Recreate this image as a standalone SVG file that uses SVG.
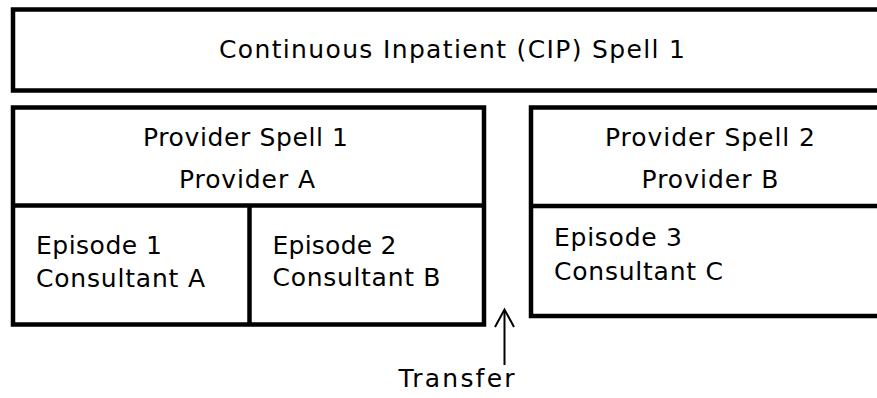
<svg xmlns="http://www.w3.org/2000/svg" width="877" height="398" viewBox="0 0 877 398">
<style>
.box{fill:#fff;stroke:#000;stroke-width:4.5}
.ln{stroke:#000;stroke-width:4.5;fill:none}
.t{font-family:"DejaVu Sans","Verdana",sans-serif;font-size:25px;fill:#000}
.arr{stroke:#000;stroke-width:2;fill:none}
</style>
<rect width="877" height="398" fill="#fff"/>
<g id="cip">
<rect class="box" x="13" y="9.5" width="878" height="81"/>
<text class="t" x="219" y="57.5" textLength="466" lengthAdjust="spacing">Continuous Inpatient (CIP) Spell 1</text>
</g>
<g id="provider1">
<rect class="box" x="13" y="107.5" width="471" height="217"/>
<line class="ln" x1="13" y1="205.5" x2="484" y2="205.5"/>
<text class="t" x="143" y="146" textLength="205" lengthAdjust="spacing">Provider Spell 1</text>
<text class="t" x="179" y="188" textLength="136" lengthAdjust="spacing">Provider A</text>
</g>
<g id="episode1">
<text class="t" x="36" y="254" textLength="126" lengthAdjust="spacing">Episode 1</text>
<text class="t" x="36" y="287" textLength="169" lengthAdjust="spacing">Consultant A</text>
</g>
<g id="episode2">
<line class="ln" x1="249.5" y1="205.5" x2="249.5" y2="324.5"/>
<text class="t" x="272.5" y="253.5" textLength="124" lengthAdjust="spacing">Episode 2</text>
<text class="t" x="272.5" y="286" textLength="168" lengthAdjust="spacing">Consultant B</text>
</g>
<g id="provider2">
<rect class="box" x="531" y="107.5" width="360" height="208.5"/>
<line class="ln" x1="531" y1="206" x2="891" y2="206"/>
<text class="t" x="605" y="146" textLength="210" lengthAdjust="spacing">Provider Spell 2</text>
<text class="t" x="641.5" y="188" textLength="137" lengthAdjust="spacing">Provider B</text>
</g>
<g id="episode3">
<text class="t" x="554" y="246" textLength="128" lengthAdjust="spacing">Episode 3</text>
<text class="t" x="554" y="280" textLength="169" lengthAdjust="spacing">Consultant C</text>
</g>
<g id="connectors">
<line class="arr" x1="504.5" y1="365" x2="504.5" y2="310"/>
<polyline class="arr" points="495,327 504.5,309.5 514,327"/>
</g>
<g id="transfer">
<text class="t" x="398.5" y="387" textLength="116" lengthAdjust="spacing">Transfer</text>
</g>
</svg>
